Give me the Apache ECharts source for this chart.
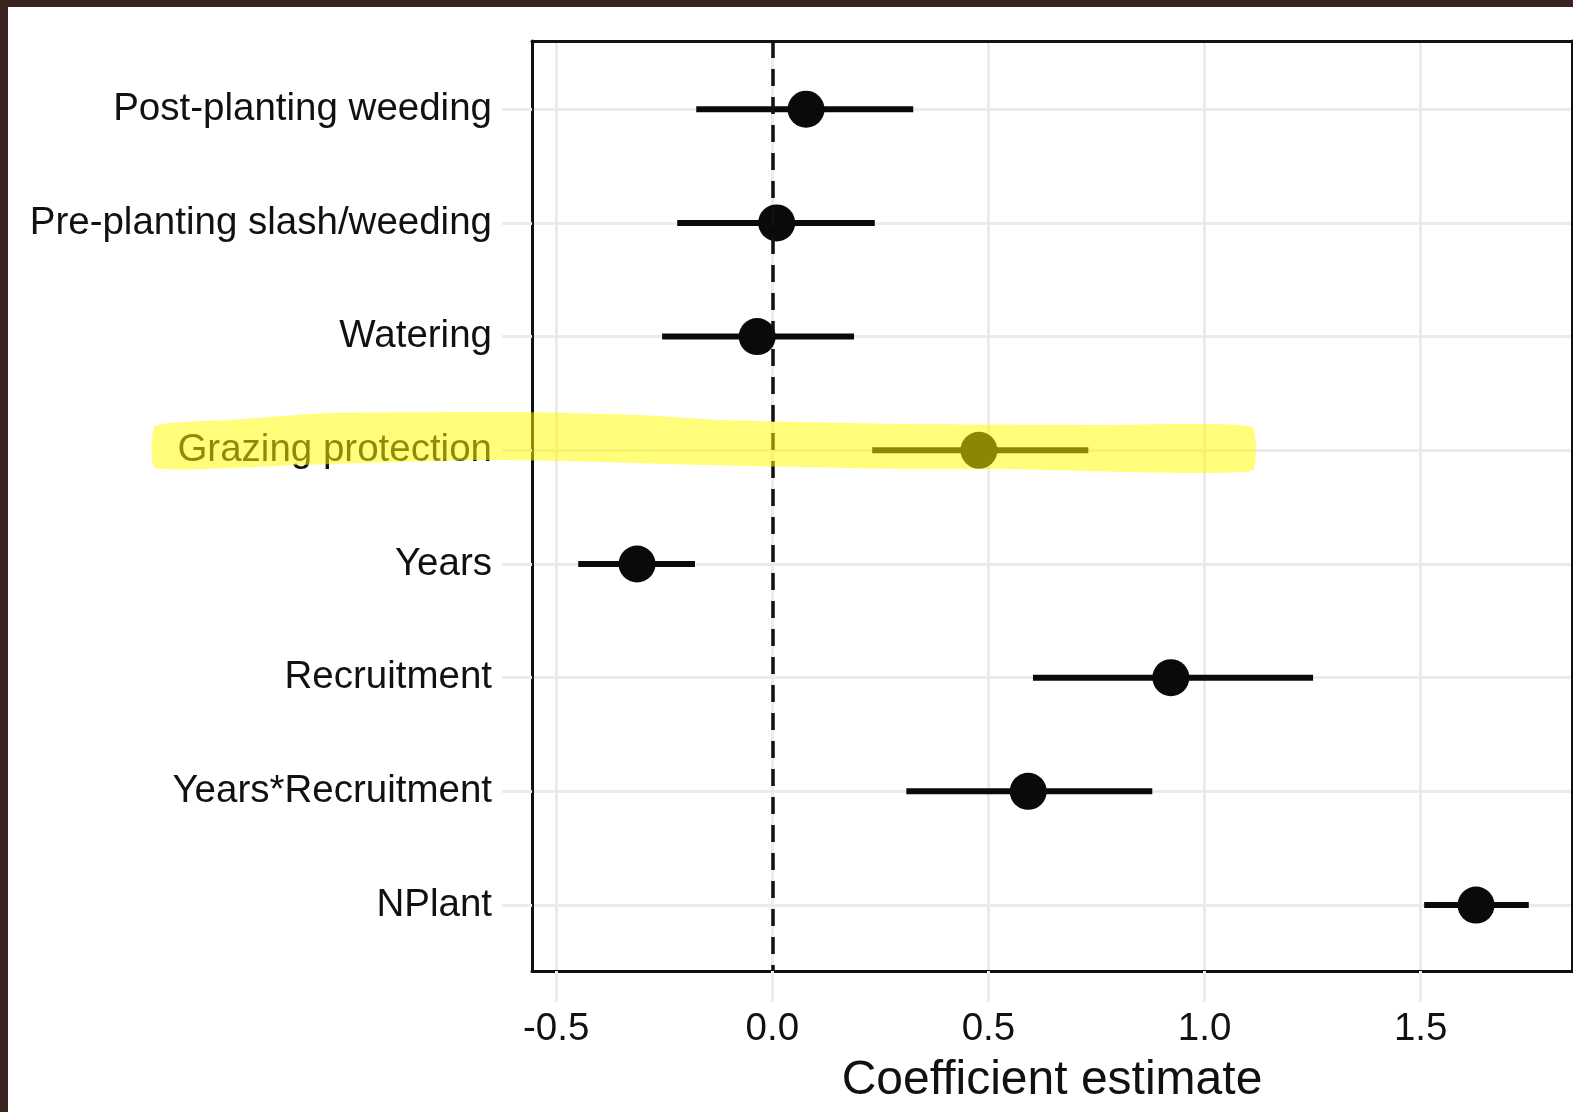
<!DOCTYPE html>
<html>
<head>
<meta charset="utf-8">
<script src="https://cdn.jsdelivr.net/npm/echarts@6/dist/echarts.min.js"></script>
<style>
  html, body { margin: 0; padding: 0; background: #3a2420; width: 1573px; height: 1112px; overflow: hidden; }
  #chart { position: absolute; left: 8px; top: 7px; width: 1565px; height: 1105px; background: #ffffff; }
</style>
</head>
<body>
<div id="chart"></div>
<script>
// ---- data ----
const categories = [
  'Post-planting weeding',
  'Pre-planting slash/weeding',
  'Watering',
  'Grazing protection',
  'Years',
  'Recruitment',
  'Years*Recruitment',
  'NPlant'
];
const estimates = [0.078, 0.010, -0.035, 0.478, -0.313, 0.922, 0.592, 1.628];
const lowerCI   = [-0.176, -0.220, -0.255, 0.231, -0.449, 0.603, 0.310, 1.508];
const upperCI   = [0.326, 0.237, 0.189, 0.731, -0.179, 1.251, 0.879, 1.750];
const xTicks = [-0.5, 0.0, 0.5, 1.0, 1.5];
const xTitle = 'Coefficient estimate';

// ---- chart ----
const FONT = "'Liberation Sans', Arial, Helvetica, sans-serif";
const chart = echarts.init(document.getElementById('chart'), null, { renderer: 'canvas' });

const yIdx = categories.map((c, i) => i);
const pointData = estimates.map((v, i) => [v, i]);
const barData = estimates.map((v, i) => [lowerCI[i], upperCI[i], i]);

const gridCol = '#ebebeb';
const off = { x: 8, y: 7 };
const hl = [
  [155,426],[230,420],[330,413],[520,412],[640,415],[720,420],[900,424],[1100,425],[1252,427],
  [1252,471],[1000,469],[900,469],[700,465],[560,461],[480,460],[400,462],[300,465],[155,468]
].map(p => [p[0] - off.x, p[1] - off.y]);

chart.setOption({
  animation: false,
  backgroundColor: '#ffffff',
  grid: { left: 524, right: 1, top: 34, bottom: 141, containLabel: false, outerBoundsMode: 'none' },
  xAxis: [
    {
      type: 'value', position: 'bottom',
      min: -0.556, max: 1.85, splitNumber: 5,
      axisLine: { show: true, onZero: false, lineStyle: { color: '#111', width: 3 } },
      axisTick: { show: true, length: 31, customValues: xTicks, lineStyle: { color: gridCol, width: 3 } },
      axisLabel: {
        show: true, customValues: xTicks, margin: 39,
        fontSize: 38.5, color: '#111', fontFamily: FONT,
        formatter: v => v.toFixed(1)
      },
      splitLine: { show: true, lineStyle: { color: gridCol, width: 3 } },
      name: xTitle, nameLocation: 'middle', nameGap: 86,
      nameTextStyle: { fontSize: 48, color: '#111', fontFamily: FONT }
    },
    {
      type: 'value', position: 'top',
      min: -0.556, max: 1.85,
      axisLine: { show: true, onZero: false, lineStyle: { color: '#111', width: 3 } },
      axisTick: { show: false }, axisLabel: { show: false }, splitLine: { show: false }
    }
  ],
  yAxis: [
    {
      type: 'value', position: 'left', inverse: true,
      min: -0.6, max: 7.58, splitNumber: 8,
      axisLine: { show: true, onZero: false, lineStyle: { color: '#111', width: 3 } },
      axisTick: { show: true, length: 30, customValues: yIdx, lineStyle: { color: gridCol, width: 3 } },
      axisLabel: {
        show: true, customValues: yIdx, margin: 40,
        fontSize: 38.5, color: '#111', fontFamily: FONT,
        formatter: v => categories[Math.round(v)] || ''
      },
      splitLine: { show: true, lineStyle: { color: gridCol, width: 3 } }
    },
    {
      type: 'value', position: 'right', inverse: true,
      min: -0.6, max: 7.58,
      axisLine: { show: true, onZero: false, lineStyle: { color: '#111', width: 3 } },
      axisTick: { show: false }, axisLabel: { show: false }, splitLine: { show: false }
    }
  ],
  series: [
    {
      type: 'custom',
      xAxisIndex: 0, yAxisIndex: 0,
      data: barData,
      encode: { x: [0, 1], y: 2 },
      z: 3,
      renderItem: function (params, api) {
        const a = api.coord([api.value(0), api.value(2)]);
        const b = api.coord([api.value(1), api.value(2)]);
        return {
          type: 'line',
          shape: { x1: a[0], y1: a[1], x2: b[0], y2: b[1] },
          style: { stroke: '#0a0a0a', lineWidth: 6 }
        };
      }
    },
    {
      type: 'scatter',
      xAxisIndex: 0, yAxisIndex: 0,
      data: pointData,
      symbol: 'circle',
      symbolSize: 37,
      itemStyle: { color: '#0a0a0a', opacity: 1 },
      z: 4,
      markLine: {
        silent: true,
        symbol: ['none', 'none'],
        label: { show: false },
        lineStyle: { color: '#111', width: 3.5, type: [17, 11] },
        data: [{ xAxis: 0 }]
      }
    }
  ],
  graphic: [
    {
      type: 'polygon',
      z: 100,
      silent: true,
      shape: { points: hl, smooth: 0.15 },
      style: { fill: 'rgba(255,251,0,0.52)' }
    }
  ]
});
</script>
</body>
</html>
